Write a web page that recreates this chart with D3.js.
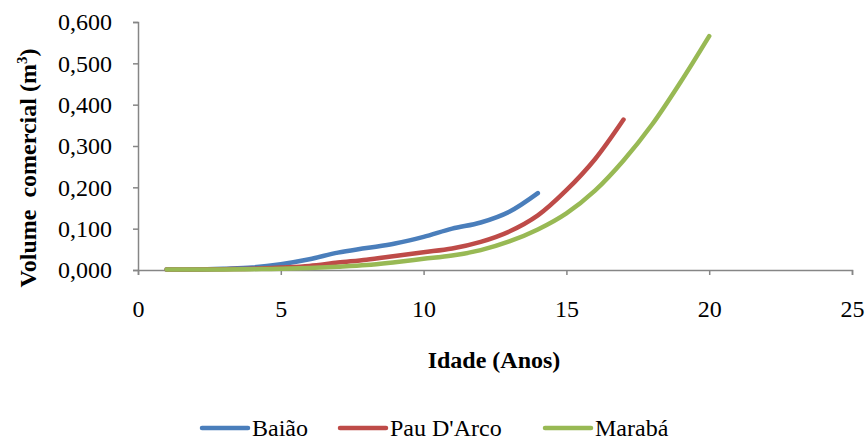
<!DOCTYPE html>
<html>
<head>
<meta charset="utf-8">
<script src="https://cdn.jsdelivr.net/npm/d3@7"></script>
<style>
  body { margin: 0; background: #fff; }
  svg text { font-family: "Liberation Serif", "Times New Roman", Times, Tinos, "DejaVu Serif", "Noto Serif", serif; fill: #000; }
</style>
</head>
<body>
<div id="chart"></div>
<script>
// Data (age in years, volume in m3)
var seriesNames = ["Baião", "Pau D'Arco", "Marabá"];
var colors = ["#4a7ebb", "#be4b48", "#98b954"];

var baiaoAges = [1, 2, 3, 4, 5, 6, 7, 8, 9, 10, 11, 12, 13, 14];
var baiaoVol = [0.001, 0.001, 0.003, 0.006, 0.014, 0.026, 0.042, 0.053, 0.064, 0.080, 0.100, 0.115, 0.141, 0.186];

var pauAges = [1, 2, 3, 4, 5, 6, 7, 8, 9, 10, 11, 12, 13, 14, 15, 16, 17];
var pauVol = [0.001, 0.001, 0.002, 0.003, 0.006, 0.010, 0.018, 0.025, 0.034, 0.043, 0.052, 0.068, 0.093, 0.132, 0.193, 0.268, 0.364];

var marabaAges = [1, 2, 3, 4, 5, 6, 7, 8, 9, 10, 11, 12, 13, 14, 15, 16, 17, 18, 19, 20];
var marabaVol = [0.001, 0.001, 0.001, 0.002, 0.003, 0.005, 0.008, 0.012, 0.019, 0.027, 0.035, 0.048, 0.069, 0.098, 0.137, 0.192, 0.265, 0.352, 0.455, 0.566];

var xTicks = [0, 5, 10, 15, 20, 25];
var yTicks = [0, 0.1, 0.2, 0.3, 0.4, 0.5, 0.6];

var width = 867, height = 441;
var margin = {top: 22, right: 15, bottom: 171, left: 138};
var serif = "'Liberation Serif', 'Times New Roman', Times, Tinos, 'DejaVu Serif', serif";

var xScale = d3.scaleLinear().domain([0, 25]).range([margin.left, width - margin.right]);
var yScale = d3.scaleLinear().domain([0, 0.6]).range([height - margin.bottom, margin.top]);

var ptBR = d3.formatLocale({decimal: ",", thousands: ".", grouping: [3], currency: ["", ""]});
var fmt = ptBR.format(".3f");

var svg = d3.select("#chart").append("svg")
    .attr("width", width)
    .attr("height", height)
    .attr("font-family", serif);

// axes
var xAxis = d3.axisBottom(xScale).tickValues(xTicks).tickSize(5).tickPadding(25).tickFormat(d3.format("d"));
var yAxis = d3.axisLeft(yScale).tickValues(yTicks).tickSize(5).tickPadding(21).tickFormat(fmt);

var gX = svg.append("g")
    .attr("transform", "translate(0," + yScale(0) + ")")
    .call(xAxis);
var gY = svg.append("g")
    .attr("transform", "translate(" + xScale(0) + ",0)")
    .call(yAxis);

[gX, gY].forEach(function(g) {
  g.attr("font-family", serif).attr("font-size", 24);
  g.select(".domain").attr("stroke", "#868686").attr("stroke-width", 1.5);
  g.selectAll(".tick line").attr("stroke", "#868686").attr("stroke-width", 1.5);
  g.selectAll(".tick text").attr("fill", "#000");
});

// the lines
var line = d3.line()
    .x(function(d) { return xScale(d[0]); })
    .y(function(d) { return yScale(d[1]); })
    .curve(d3.curveCatmullRom.alpha(0.5));

var series = [
  d3.zip(baiaoAges, baiaoVol),
  d3.zip(pauAges, pauVol),
  d3.zip(marabaAges, marabaVol)
];

svg.append("g").selectAll("path")
    .data(series)
  .enter().append("path")
    .attr("d", line)
    .attr("fill", "none")
    .attr("stroke", function(d, i) { return colors[i]; })
    .attr("stroke-width", 4.5)
    .attr("stroke-linecap", "round")
    .attr("stroke-linejoin", "round");

// axis titles
svg.append("text")
    .attr("x", 494)
    .attr("y", 368)
    .attr("text-anchor", "middle")
    .attr("font-size", 24)
    .attr("font-weight", "bold")
    .text("Idade (Anos)");

var yTitle = svg.append("text")
    .attr("transform", "translate(36,168) rotate(-90)")
    .attr("text-anchor", "middle")
    .attr("font-size", 24)
    .attr("font-weight", "bold")
    .style("white-space", "pre");
yTitle.append("tspan").text("Volume  comercial (m");
yTitle.append("tspan").attr("font-size", 15).attr("dy", -9).text("3");
yTitle.append("tspan").attr("dy", 9).text(")");

// legend
var legendX = [202, 340, 545];
var legend = svg.append("g").selectAll("g")
    .data(seriesNames)
  .enter().append("g")
    .attr("transform", function(d, i) { return "translate(" + legendX[i] + ",428)"; });

legend.append("line")
    .attr("x1", 0).attr("x2", 46)
    .attr("stroke", function(d, i) { return colors[i]; })
    .attr("stroke-width", 4.5)
    .attr("stroke-linecap", "round");

legend.append("text")
    .attr("x", 50)
    .attr("y", 8)
    .attr("font-size", 24)
    .text(function(d) { return d; });
</script>
</body>
</html>
